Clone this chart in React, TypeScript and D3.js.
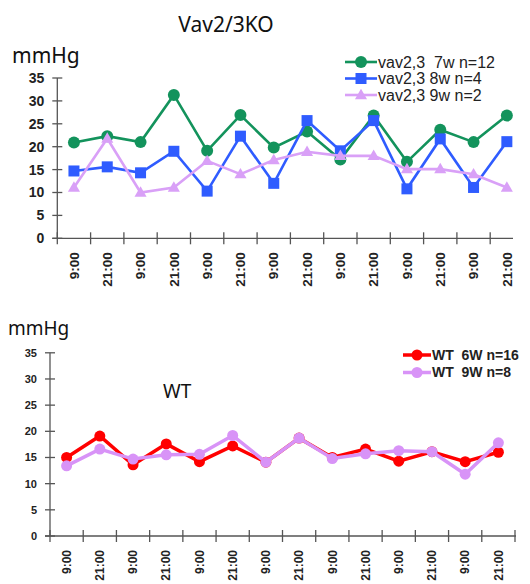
import React from 'react'
import * as d3 from 'd3'

// time points on the x axis (7 days, 9:00 and 21:00)
const times = ['9:00', '21:00', '9:00', '21:00', '9:00', '21:00', '9:00', '21:00', '9:00', '21:00', '9:00', '21:00', '9:00', '21:00']
const yTicks = [0, 5, 10, 15, 20, 25, 30, 35]

// Vav2/3KO
const ko7w = [20.9, 22.3, 21.0, 31.3, 19.1, 26.9, 19.8, 23.3, 17.2, 26.8, 16.7, 23.7, 21.0, 26.8]
const ko8w = [14.7, 15.6, 14.3, 19.0, 10.3, 22.3, 12.0, 25.7, 19.1, 25.7, 10.8, 21.7, 11.1, 21.1]
const ko9w = [11.1, 21.8, 10.0, 11.1, 16.9, 14.0, 17.1, 18.9, 18.0, 18.0, 15.1, 15.1, 14.0, 11.1]

// WT
const wt6w = [15.0, 19.1, 13.6, 17.6, 14.2, 17.2, 14.1, 18.7, 15.0, 16.6, 14.3, 16.1, 14.2, 16.0]
const wt9w = [13.4, 16.6, 14.7, 15.5, 15.6, 19.2, 14.1, 18.7, 14.8, 15.7, 16.3, 16.1, 11.8, 17.8]

const font = '"Liberation Sans", Arial, sans-serif'
const titleFont = '"Noto Sans", "DejaVu Sans", sans-serif'
const axisColor = '#555'

const idx = times.map((_, i) => i)

function Marker({ shape, x, y, size, color }) {
	if (shape === 'square') {
		return <rect x={x - size} y={y - size} width={size * 2} height={size * 2} fill={color} />
	}
	if (shape === 'triangle') {
		const h = size * 1.9
		return <path d={`M${x},${y - h * 0.6}L${x + size * 1.1},${y + h * 0.4}L${x - size * 1.1},${y + h * 0.4}Z`} fill={color} />
	}
	return <circle cx={x} cy={y} r={size} fill={color} />
}

function Panel({ top, bottom, left, right, axisEnd, series, tickSize, labelSize, lineWidth, showLastTick }) {
	const x = d3.scaleBand().domain(idx).range([left, right])
	const y = d3.scaleLinear().domain([0, 35]).range([bottom, top])
	const cx = i => x(i) + x.bandwidth() / 2
	const line = d3.line().x((d, i) => cx(i)).y(d => y(d))
	const tickIdx = showLastTick ? [...idx, 14] : idx
	const tickX = i => (i === 14 ? right : x(i))

	return (
		<g>
			{/* y axis */}
			<line x1={left} x2={left} y1={y(35)} y2={y(0)} stroke={axisColor} strokeWidth={1.3} />
			{yTicks.map(t => (
				<g key={t}>
					<line x1={left - 5} x2={left + 5} y1={y(t)} y2={y(t)} stroke={axisColor} strokeWidth={1.3} />
					<text x={left - 13} y={y(t)} dy="0.35em" textAnchor="end" fontSize={tickSize} fontFamily={font} fontWeight="bold" fill="#222">
						{t}
					</text>
				</g>
			))}
			{/* x axis */}
			<line x1={left - 5} x2={axisEnd} y1={y(0)} y2={y(0)} stroke={axisColor} strokeWidth={1.3} />
			{tickIdx.map(i => (
				<line key={i} x1={tickX(i)} x2={tickX(i)} y1={y(0) - 6} y2={y(0) + 6} stroke={axisColor} strokeWidth={1.3} />
			))}
			{times.map((t, i) => (
				<text
					key={i}
					transform={`translate(${cx(i)},${y(0) + 14}) rotate(-90)`}
					dy="0.35em"
					textAnchor="end"
					fontSize={labelSize}
					fontFamily={font}
					fontWeight="bold"
					fill="#222"
				>
					{t}
				</text>
			))}
			{series.map(s => (
				<g key={s.name}>
					<path d={line(s.values)} fill="none" stroke={s.color} strokeWidth={lineWidth} />
					{s.values.map((v, i) => (
						<Marker key={i} shape={s.shape} x={cx(i)} y={y(v)} size={s.size} color={s.color} />
					))}
				</g>
			))}
		</g>
	)
}

function Legend({ x, y, step, items, fontSize, lineLen, lineWidth, bold }) {
	return (
		<g>
			{items.map((s, i) => (
				<g key={s.name} transform={`translate(${x},${y + i * step})`}>
					<line x1={0} x2={lineLen} y1={0} y2={0} stroke={s.color} strokeWidth={lineWidth} />
					<Marker shape={s.shape} x={lineLen / 2} y={0} size={s.size} color={s.color} />
					<text
						x={lineLen + 1}
						y={0}
						dy="0.35em"
						fontSize={fontSize}
						fontFamily={font}
						fontWeight={bold ? 'bold' : 'normal'}
						fill="#222"
						style={{ whiteSpace: 'pre' }}
					>
						{s.name}
					</text>
				</g>
			))}
		</g>
	)
}

export default function App() {
	const koSeries = [
		{ name: 'vav2,3  7w n=12', values: ko7w, color: '#13935c', shape: 'circle', size: 6 },
		{ name: 'vav2,3 8w n=4', values: ko8w, color: '#2f5cff', shape: 'square', size: 5.5 },
		{ name: 'vav2,3 9w n=2', values: ko9w, color: '#d9a0f7', shape: 'triangle', size: 5.5 },
	]
	const wtSeries = [
		{ name: 'WT  6W n=16', values: wt6w, color: '#ff0000', shape: 'circle', size: 5.5 },
		{ name: 'WT  9W n=8', values: wt9w, color: '#d893f7', shape: 'circle', size: 5.5 },
	]

	return (
		<svg width={530} height={584} style={{ position: 'absolute', left: 0, top: 0, background: '#fff' }}>
			<text x={226} y={32} textAnchor="middle" fontSize={21} fontFamily={titleFont} fill="#111">
				Vav2/3KO
			</text>
			<text x={12} y={63} fontSize={21} fontFamily={titleFont} fill="#111">
				mmHg
			</text>
			<Panel
				top={78}
				bottom={238.3}
				left={57.3}
				right={523.5}
				axisEnd={513}
				series={koSeries}
				tickSize={14}
				labelSize={13.5}
				lineWidth={2.6}
				showLastTick={false}
			/>
			<Legend x={345} y={62} step={16.5} items={koSeries} fontSize={16} lineLen={32} lineWidth={2.6} bold={false} />

			<text x={8} y={335} fontSize={19} fontFamily={titleFont} fill="#111">
				mmHg
			</text>
			<text x={163} y={398} fontSize={19} fontFamily={titleFont} fill="#111">
				WT
			</text>
			<Panel
				top={352.8}
				bottom={536}
				left={50}
				right={515}
				axisEnd={516}
				series={wtSeries}
				tickSize={11}
				labelSize={12}
				lineWidth={3.5}
				showLastTick={true}
			/>
			<Legend x={403} y={355} step={17.5} items={wtSeries} fontSize={14} lineLen={28} lineWidth={3.5} bold={true} />
		</svg>
	)
}
